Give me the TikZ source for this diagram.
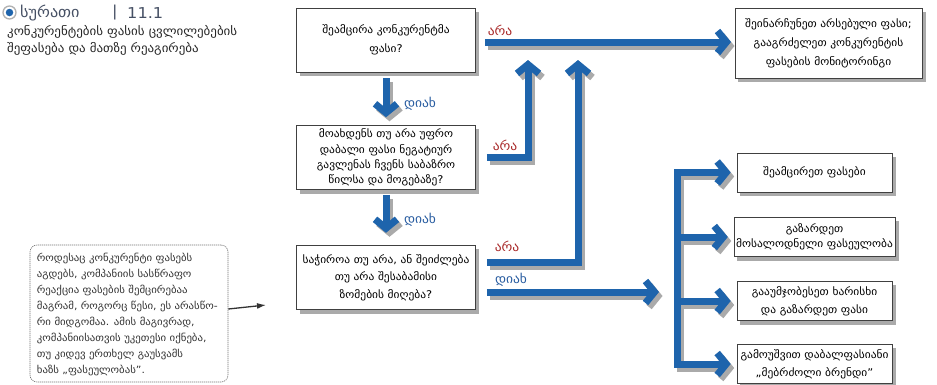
\documentclass[tikz,border=0pt]{standalone}
\usepackage{fontspec}
\setmainfont[FakeStretch=1.08]{DejaVu Sans}
\usetikzlibrary{arrows.meta,calc,backgrounds}
\definecolor{arrowblue}{RGB}{30,100,172}
\definecolor{labred}{RGB}{168,40,40}
\definecolor{labblue}{RGB}{40,92,160}
\definecolor{titlegray}{RGB}{70,80,100}
\definecolor{shadowgray}{RGB}{170,170,170}
\newcommand{\fs}[2]{\fontsize{#1}{#2}\selectfont}
\begin{document}
\begin{tikzpicture}[x=1pt,y=-1pt,
  box/.style={draw=black!75, line width=0.6pt, fill=white, align=center, inner sep=2pt,
    font=\fs{10.6}{17}},
  rbox/.style={box, minimum width=155pt, minimum height=39pt},
  cbox/.style={box, minimum width=179pt, minimum height=64pt},
  tipstyle/.style={-{Straight Barb[length=9pt,width=22pt]}},
  bothtips/.style={{Straight Barb[length=9pt,width=22pt]}-{Straight Barb[length=9pt,width=22pt]}},
  barrow/.style={line width=7pt, draw=arrowblue, line join=miter, tipstyle},
  sarrow/.style={line width=7pt, draw=shadowgray, line join=miter, tipstyle},
  nolab/.style={text=labred, font=\fs{12.5}{14}, inner sep=0pt},
  yeslab/.style={text=labblue, font=\fs{12.5}{14}, inner sep=0pt},
]
\useasboundingbox (0,0) rectangle (937,384);

% title
\node[circle, draw=black!30, fill=white, line width=1.3pt, minimum size=13pt, inner sep=0pt] (dot) at (9.5,12.5) {};
\node[circle, fill=arrowblue, minimum size=7.5pt, inner sep=0pt] (dotin) at (dot.center) {};
\node[anchor=west, text=titlegray, font=\fs{15}{17}, inner sep=0pt] (ttl) at (20,13) {სურათი};
\node[anchor=west, text=titlegray, font=\fs{15}{17}, inner sep=0pt] (bar) at (112,13) {|};
\node[anchor=west, text=titlegray, font=\fs{15}{17}, inner sep=0pt] (num) at (127,13) {11.1};
\node[anchor=north west, align=left, inner sep=0pt, text=black!85, font=\fs{12}{17}] (sub) at (7,25)
  {კონკურენტების ფასის ცვლილებების\\შეფასება და მათზე რეაგირება};

% central boxes
\node[cbox, font=\fs{10.6}{19}] (A) at (386,40) {შეამცირა კონკურენტმა\\ფასი?};
\node[cbox, font=\fs{10.6}{15.3}] (B) at (386,157.5) {მოახდენს თუ არა უფრო\\დაბალი ფასი ნეგატიურ\\გავლენას ჩვენს საბაზრო\\წილსა და მოგებაზე?};
\node[cbox, font=\fs{10.6}{17.5}] (C) at (386,277.5) {საჭიროა თუ არა, ან შეიძლება\\თუ არა შესაბამისი\\ზომების მიღება?};

% right boxes
\node[box, minimum width=187pt, minimum height=70pt, font=\fs{10.6}{19}] (R0) at (828.5,43) {შეინარჩუნეთ არსებული ფასი;\\გააგრძელეთ კონკურენტის\\ფასების მონიტორინგი};
\node[rbox] (R1) at (814.5,172.5) {შეამცირეთ ფასები};
\node[rbox, font=\fs{10.6}{15}] (R2) at (814.5,237) {გაზარდეთ\\მოსალოდნელი ფასეულობა};
\node[rbox, font=\fs{10.6}{18}] (R3) at (814.5,301) {გააუმჯობესეთ ხარისხი\\და გაზარდეთ ფასი};
\node[rbox, font=\fs{10.6}{18}] (R4) at (814.5,364) {გამოუშვით დაბალფასიანი\\,,მებრძოლი ბრენდი"};

% left note
\node[draw=black!55, dash pattern=on 1.2pt off 0.8pt, rounded corners=7pt, line width=0.6pt,
  minimum width=198pt, minimum height=137pt, inner sep=0pt] (note) at (129,313.5) {};
\node[anchor=north west, align=left, text=black!80, font=\fs{10}{16}, inner sep=0pt] (notetext)
  at ($(note.north west)+(7,8)$)
  {როდესაც კონკურენტი ფასებს\\აგდებს, კომპანიის სასწრაფო\\რეაქცია ფასების შემცირებაა\\მაგრამ, როგორც წესი, ეს არასწო-\\რი მიდგომაა. ამის მაგივრად,\\კომპანიისათვის უკეთესი იქნება,\\თუ კიდევ ერთხელ გაუსვამს\\ხაზს ,,ფასეულობას''.};
\coordinate (noteend) at (266,305);
\draw[line width=1.3pt, draw=black!80, -{Latex[length=9pt,width=6pt]}] (note.east |- 0,309) -- (noteend);

% coordinates for connectors
\coordinate (d1s) at ($(A.south)+(0,6)$);
\coordinate (d1e) at ($(A.south)+(0,45)$);
\coordinate (d2s) at ($(B.south)+(0,5)$);
\coordinate (d2e) at ($(B.south)+(0,43)$);
\coordinate (t1) at (731,42);
\coordinate (s1) at ([xshift=9]A.east |- t1);
\coordinate (c2) at (528,157);
\coordinate (t2) at (528,60);
\coordinate (s2) at ([xshift=11]B.east |- c2);
\coordinate (c3) at (578,262);
\coordinate (t3) at (578,60);
\coordinate (s3) at ([xshift=11]C.east |- c3);
\coordinate (t4) at (659,292);
\coordinate (s4) at ([xshift=11]C.east |- t4);
\coordinate (b1) at (677,172.5);
\coordinate (b2) at (677,237);
\coordinate (b3) at (677,301);
\coordinate (b4) at (677,364);
\coordinate (e1) at ([xshift=-6]R1.west);
\coordinate (e2) at ([xshift=-6]R2.west);
\coordinate (e3) at ([xshift=-6]R3.west);
\coordinate (e4) at ([xshift=-6]R4.west);
\foreach \c in {d1s,d1e,d2s,d2e,t1,s1,c2,t2,s2,c3,t3,s3,t4,s4,b1,b2,b3,b4,e1,e2,e3,e4}
  \coordinate (\c-sh) at ($(\c)+(3.5,4)$);

% shadows
\begin{scope}[on background layer]
  \foreach \n in {A,B,C,R0,R1,R2,R3,R4}
    \fill[shadowgray] ($(\n.north west)+(3.5,4)$) rectangle ($(\n.south east)+(3.5,4)$);
  \draw[sarrow] (d1s-sh) -- (d1e-sh);
  \draw[sarrow] (d2s-sh) -- (d2e-sh);
  \draw[sarrow] (s1-sh) -- (t1-sh);
  \draw[sarrow] (s2-sh) -- (c2-sh) -- (t2-sh);
  \draw[sarrow] (s3-sh) -- (c3-sh) -- (t3-sh);
  \draw[sarrow] (s4-sh) -- (t4-sh);
  \draw[sarrow, bothtips] (e1-sh) -- (b1-sh) -- (b4-sh) -- (e4-sh);
  \draw[sarrow] (b2-sh) -- (e2-sh);
  \draw[sarrow] (b3-sh) -- (e3-sh);
\end{scope}

% connectors
\draw[barrow] (d1s) -- (d1e);
\node[yeslab] (y1) at (420,104) {დიახ};
\draw[barrow] (d2s) -- (d2e);
\node[yeslab] (y2) at (420,220) {დიახ};

\draw[barrow] (s1) -- (t1);
\node[nolab] (n1) at (500,30) {არა};
\draw[barrow] (s2) -- (c2) -- (t2);
\node[nolab] (n2) at (505,145) {არა};
\draw[barrow] (s3) -- (c3) -- (t3);
\node[nolab] (n3) at (507,246) {არა};
\draw[barrow] (s4) -- (t4);
\node[yeslab] (y3) at (511,280) {დიახ};

\draw[barrow, bothtips] (e1) -- (b1) -- (b4) -- (e4);
\draw[barrow] (b2) -- (e2);
\draw[barrow] (b3) -- (e3);
\end{tikzpicture}
\end{document}
